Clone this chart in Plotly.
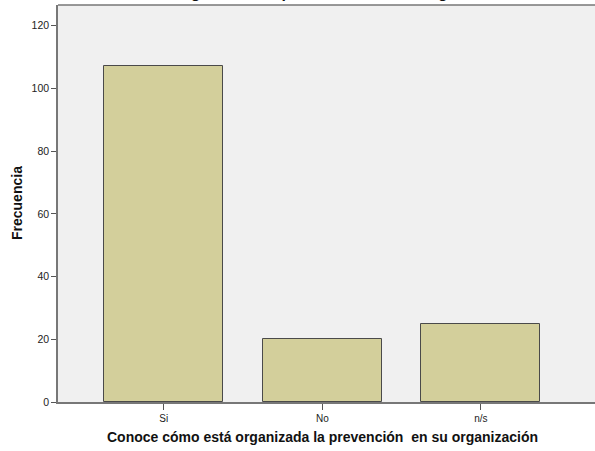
import plotly.graph_objects as go

categories = ["Si", "No", "n/s"]
frecuencia = [107, 20, 25]
y_ticks = [0, 20, 40, 60, 80, 100, 120]

W, H = 595, 451
ML, MR, MT, MB = 58, 0, 5, 49
PW, PH = W - ML - MR, H - MT - MB

fig = go.Figure()
fig.add_trace(go.Bar(
    x=list(range(len(categories))),
    y=frecuencia,
    width=0.75,
    marker=dict(color="#D3CF9B", line=dict(color="#4a4a4a", width=1)),
    hoverinfo="skip",
))

font = "Arial, Liberation Sans, sans-serif"
fig.update_layout(
    width=W, height=H,
    margin=dict(l=ML, r=MR, t=MT, b=MB, pad=0),
    paper_bgcolor="white",
    plot_bgcolor="#F0F0F0",
    showlegend=False,
    bargap=0,
    font=dict(family=font, color="#222"),
    xaxis=dict(
        range=[-0.667, 2.72],
        tickmode="array",
        tickvals=list(range(len(categories))),
        ticktext=categories,
        ticks="outside", ticklen=6, tickcolor="#555", tickwidth=1,
        tickfont=dict(size=10, color="#222"),
        showline=True, linecolor="#777", linewidth=1.5,
        showgrid=False, zeroline=False,
        mirror=False,
    ),
    yaxis=dict(
        range=[0, 126.6],
        tickmode="array",
        tickvals=y_ticks,
        ticks="outside", ticklen=5, tickcolor="#555", tickwidth=1,
        tickfont=dict(size=10.5, color="#222"),
        showline=True, linecolor="#777", linewidth=1.5,
        showgrid=False, zeroline=False,
    ),
    annotations=[
        dict(text="<b>Conoce cómo está organizada la prevención  en su organización</b>",
             xref="paper", yref="paper", x=(322 - ML) / PW, y=-(437 - (H - MB)) / PH,
             xanchor="center", yanchor="middle", showarrow=False,
             font=dict(size=14, family=font, color="#111")),
        dict(text="<b>Frecuencia</b>",
             xref="paper", yref="paper", x=-(ML - 17) / PW, y=1 - (203 - MT) / PH,
             xanchor="center", yanchor="middle", showarrow=False, textangle=-90,
             font=dict(size=14, family=font, color="#111")),
        dict(text="<b>Conoce cómo está organizada la prevención  en su organización</b>",
             xref="paper", yref="paper", x=(274 - ML) / PW, y=1 + (MT - 3) / PH,
             xanchor="center", yanchor="bottom", showarrow=False,
             font=dict(size=16, family=font, color="#111")),
    ],
)
# top border line of the plot frame
fig.add_shape(type="line", xref="paper", yref="paper", x0=0, x1=1, y0=1, y1=1,
              line=dict(color="#777", width=1.5))

fig.write_html("out.html",
               config={"displayModeBar": False},
               post_script="document.body.style.margin='0';document.body.style.overflow='hidden';")
